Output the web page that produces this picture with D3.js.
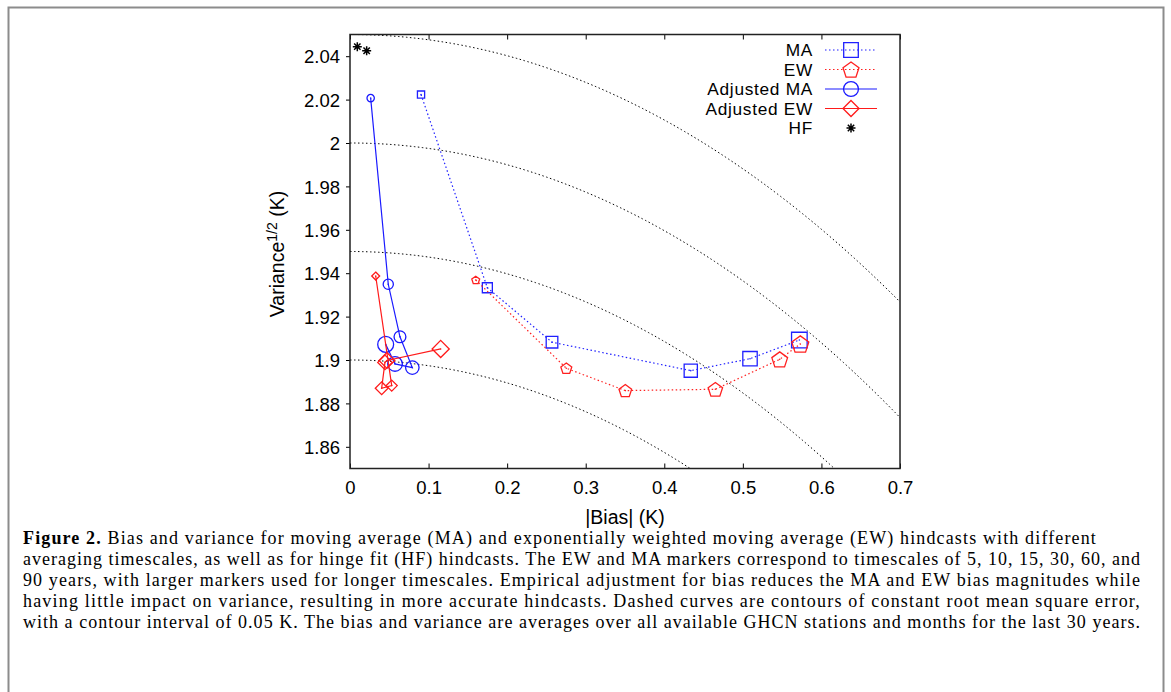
<!DOCTYPE html>
<html lang="en">
<head>
<meta charset="utf-8">
<title>Figure 2</title>
<style>
    body { margin: 0; background: #fff; }
    .axis text { font-family: "Liberation Sans", Arial, sans-serif; font-size: 18.5px; fill: #000; }
    .axis path, .axis line { stroke: #000; }
    .caption text { font-family: "Liberation Serif", "Times New Roman", serif; font-size: 18px; fill: #000; }
    .legend text { font-family: "Liberation Sans", Arial, sans-serif; font-size: 17.3px; letter-spacing: 0.7px; fill: #000; }
    .title { font-family: "Liberation Sans", Arial, sans-serif; font-size: 19.5px; fill: #000; }
</style>
</head>
<body>
<svg id="chart" width="1171" height="692"></svg>
<script src="https://d3js.org/d3.v7.min.js"></script>
<script>
    // data: |bias| (K), sqrt(variance) (K)
    var maBias   = [0.0904, 0.1748, 0.2571, 0.4337, 0.5091, 0.5719],
        maStd    = [2.0223, 1.9333, 1.9082, 1.8951, 1.9006, 1.9092];
    var ewBias   = [0.1600, 0.2753, 0.3504, 0.4650, 0.5469, 0.5731],
        ewStd    = [1.9369, 1.8962, 1.8859, 1.8865, 1.9003, 1.9074];
    var adjMaBias = [0.0263, 0.0487, 0.0636, 0.0793, 0.0573, 0.0454],
        adjMaStd  = [2.0207, 1.9349, 1.9107, 1.8965, 1.8982, 1.9072];
    var adjEwBias = [0.0327, 0.0531, 0.0403, 0.0445, 0.0470, 0.1154],
        adjEwStd  = [1.9387, 1.8882, 1.8870, 1.8989, 1.8998, 1.9051];
    var hfBias = [0.0093, 0.0212],
        hfStd  = [2.0444, 2.0425];
    var timescales = [5, 10, 15, 30, 60, 90];
    var markerSize = [3.6, 5.0, 5.8, 6.6, 7.2, 7.8];   // grows with timescale
    var rmseLevels = [1.9, 1.95, 2.0, 2.05];
    var xTicks = [0, 0.1, 0.2, 0.3, 0.4, 0.5, 0.6, 0.7],
        yTicks = [1.86, 1.88, 1.9, 1.92, 1.94, 1.96, 1.98, 2, 2.02, 2.04];

    var captionLines = [
        ["Figure 2.", " Bias and variance for moving average (MA) and exponentially weighted moving average (EW) hindcasts with different"],
        ["", "averaging timescales, as well as for hinge fit (HF) hindcasts. The EW and MA markers correspond to timescales of 5, 10, 15, 30, 60, and"],
        ["", "90 years, with larger markers used for longer timescales. Empirical adjustment for bias reduces the MA and EW bias magnitudes while"],
        ["", "having little impact on variance, resulting in more accurate hindcasts. Dashed curves are contours of constant root mean square error,"],
        ["", "with a contour interval of 0.05 K. The bias and variance are averages over all available GHCN stations and months for the last 30 years."]
    ];
    var captionRight = [1097, 1141, 1141, 1141, 1141];

    var svg = d3.select('#chart');

    // outer figure frame
    svg.append('rect')
        .attr('x', 8.5).attr('y', 7.5)
        .attr('width', 1155).attr('height', 700)
        .attr('fill', 'none')
        .attr('stroke', '#8c8c8c')
        .attr('stroke-width', 2);

    var plot = {left: 350, top: 34.5, right: 900, bottom: 468.5};

    var x = d3.scaleLinear().domain([0, 0.7]).range([plot.left, plot.right]),
        y = d3.scaleLinear().domain([1.85, 2.05]).range([plot.bottom, plot.top]);

    svg.append('defs').append('clipPath').attr('id', 'clip')
        .append('rect')
        .attr('x', plot.left).attr('y', plot.top)
        .attr('width', plot.right - plot.left)
        .attr('height', plot.bottom - plot.top);

    // contours of constant rmse
    var contour = d3.line().x(function(d) { return x(d[0]); }).y(function(d) { return y(d[1]); });
    var cg = svg.append('g').attr('clip-path', 'url(#clip)');
    rmseLevels.forEach(function(r) {
        var pts = d3.range(0, Math.min(r, 0.72), 0.002).map(function(b) {
            return [b, Math.sqrt(r * r - b * b)];
        });
        cg.append('path')
            .attr('d', contour(pts))
            .attr('fill', 'none')
            .attr('stroke', '#000')
            .attr('stroke-width', 1)
            .attr('stroke-dasharray', '1.5,2.5');
    });

    // axes
    var gx = svg.append('g').attr('class', 'axis')
        .attr('transform', 'translate(0,' + plot.bottom + ')')
        .call(d3.axisBottom(x).tickValues(xTicks).tickSize(-5).tickPadding(12)
            .tickFormat(function(d) { return d3.format('')(+d.toFixed(1)); }));
    gx.select('.domain').remove();

    var gy = svg.append('g').attr('class', 'axis')
        .attr('transform', 'translate(' + plot.left + ',0)')
        .call(d3.axisLeft(y).tickValues(yTicks).tickSize(4).tickPadding(6)
            .tickFormat(function(d) { return d3.format('')(+d.toFixed(2)); }));
    gy.select('.domain').remove();
    gy.selectAll('text').attr('dy', '0.36em');

    var gt = svg.append('g').attr('class', 'axis')
        .attr('transform', 'translate(0,' + plot.top + ')')
        .call(d3.axisTop(x).tickValues(xTicks).tickSize(-5).tickFormat(''));
    gt.select('.domain').remove();

    svg.append('rect')
        .attr('x', plot.left).attr('y', plot.top)
        .attr('width', plot.right - plot.left)
        .attr('height', plot.bottom - plot.top)
        .attr('fill', 'none')
        .attr('stroke', '#222')
        .attr('stroke-width', 1.5);

    // axis titles
    svg.append('text').attr('class', 'title')
        .attr('x', (plot.left + plot.right) / 2).attr('y', 524)
        .attr('text-anchor', 'middle')
        .text('|Bias| (K)');

    var yl = svg.append('text').attr('class', 'title')
        .attr('transform', 'translate(284,254) rotate(-90)')
        .attr('text-anchor', 'middle');
    yl.append('tspan').text('Variance');
    yl.append('tspan').attr('dy', -7).style('font-size', '14px').text('1/2');
    yl.append('tspan').attr('dy', 7).text(' (K)');

    // marker shapes
    function square(s) { return d3.symbol().type(d3.symbolSquare).size(4 * s * s)(); }
    function circle(s) { return d3.symbol().type(d3.symbolCircle).size(Math.PI * s * s)(); }
    function diamond(s) {
        return 'M0,' + (-s) + 'L' + s + ',0L0,' + s + 'L' + (-s) + ',0Z';
    }
    function pentagon(s) {
        var p = d3.range(5).map(function(i) {
            var a = -Math.PI / 2 + i * 2 * Math.PI / 5;
            return [s * Math.cos(a), s * Math.sin(a) + s * 0.1];
        });
        return 'M' + p.join('L') + 'Z';
    }
    function asterisk(s) {
        var d = '';
        for (var i = 0; i < 4; i++) {
            var a = i * Math.PI / 4;
            d += 'M' + (-s * Math.cos(a)) + ',' + (-s * Math.sin(a)) + 'L' + (s * Math.cos(a)) + ',' + (s * Math.sin(a));
        }
        return d;
    }

    var series = [
        {name: 'MA', bx: maBias, sy: maStd, color: '#2020ff', dash: '1.5,2.5', shape: square, scale: 1},
        {name: 'EW', bx: ewBias, sy: ewStd, color: '#ff2020', dash: '1.5,2.5', shape: pentagon, scale: 1.15},
        {name: 'Adjusted MA', bx: adjMaBias, sy: adjMaStd, color: '#1a1aff', dash: null, shape: circle, scale: 1.02},
        {name: 'Adjusted EW', bx: adjEwBias, sy: adjEwStd, color: '#ff1a1a', dash: null, shape: diamond, scale: 1.1}
    ];

    var line = d3.line().x(function(d) { return x(d[0]); }).y(function(d) { return y(d[1]); });

    series.forEach(function(s) {
        var pts = s.bx.map(function(b, i) { return [b, s.sy[i], markerSize[i]]; });
        svg.append('path')
            .attr('d', line(pts))
            .attr('fill', 'none')
            .attr('stroke', s.color)
            .attr('stroke-width', 1.2)
            .attr('stroke-dasharray', s.dash);
        var mk = svg.append('g').selectAll('g').data(pts).join('g')
            .attr('transform', function(d) { return 'translate(' + x(d[0]) + ',' + y(d[1]) + ')'; });
        mk.append('path')
            .attr('d', function(d) { return s.shape(d[2] * s.scale); })
            .attr('fill', 'none')
            .attr('stroke', s.color)
            .attr('stroke-width', 1.3);
        mk.append('circle').attr('r', 0.8).attr('fill', s.color);
    });

    svg.append('g').selectAll('path')
        .data(hfBias.map(function(b, i) { return [b, hfStd[i]]; }))
        .join('path')
        .attr('transform', function(d) { return 'translate(' + x(d[0]) + ',' + y(d[1]) + ')'; })
        .attr('d', asterisk(4.5))
        .attr('stroke', '#000')
        .attr('stroke-width', 1.5);

    // legend
    var legendItems = series.concat([{name: 'HF', color: '#000', shape: null}]);
    var lg = svg.append('g').attr('class', 'legend');
    legendItems.forEach(function(s, i) {
        var ly = 50 + i * 19.5;
        lg.append('text')
            .attr('x', 813).attr('y', ly)
            .attr('dy', '0.35em')
            .attr('text-anchor', 'end')
            .text(s.name);
        if (s.shape) {
            lg.append('line')
                .attr('x1', 825).attr('x2', 877)
                .attr('y1', ly).attr('y2', ly)
                .attr('stroke', s.color)
                .attr('stroke-width', 1.2)
                .attr('stroke-dasharray', s.dash);
            lg.append('path')
                .attr('transform', 'translate(851,' + ly + ')')
                .attr('d', s.shape(7.3 * s.scale))
                .attr('fill', 'none')
                .attr('stroke', s.color)
                .attr('stroke-width', 1.3);
        } else {
            lg.append('path')
                .attr('transform', 'translate(851,' + ly + ')')
                .attr('d', asterisk(4.5))
                .attr('stroke', '#000')
                .attr('stroke-width', 1.5);
        }
    });

    // caption, justified by spreading the glyphs a little
    var cap = svg.append('g').attr('class', 'caption');
    captionLines.forEach(function(l, i) {
        var t = cap.append('text')
            .attr('x', 23).attr('y', 544 + i * 21);
        if (l[0]) t.append('tspan').style('font-weight', 'bold').text(l[0]);
        t.append('tspan').text(l[1]);
        var natural = t.node().getComputedTextLength(),
            chars = (l[0] + l[1]).length,
            extra = (captionRight[i] - 23 - natural) / chars;
        if (extra > 0) t.style('letter-spacing', extra + 'px');
    });
</script>
</body>
</html>
